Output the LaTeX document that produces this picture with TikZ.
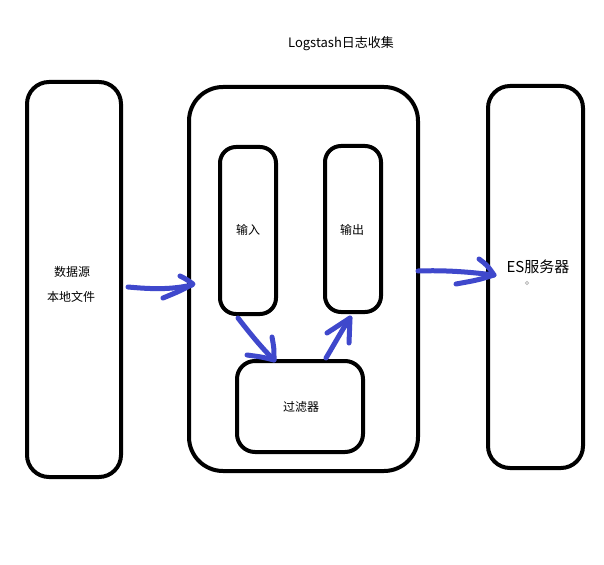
\documentclass[tikz,border=0pt]{standalone}
\usepackage{fontspec}
\setmainfont{Noto Sans CJK SC}
\definecolor{pen}{RGB}{63,72,204}
\begin{document}
\begin{tikzpicture}[x=1pt,y=-1pt,
  box/.style={draw=black,line width=4pt,rounded corners=#1},
  box/.default=18pt,
  lbl/.style={font=\fontsize{12}{14}\selectfont,inner sep=0pt},
  stroke/.style={draw=pen,line width=5pt,line cap=round,line join=round}]
\useasboundingbox (0,0) rectangle (604,564);
\fill[white] (0,0) rectangle (604,564);
% boxes
\draw[box=22pt] (27,82) rectangle (121,477);
\coordinate (srcE) at (121,287);
\draw[box=34pt] (189,87) rectangle (418,471);
\draw[box=16pt] (220,147) rectangle (276,314);
\draw[box=16pt] (325,146) rectangle (381,312);
\draw[box=18pt] (237,361) rectangle (363,452);
\draw[box=22pt] (488,86) rectangle (583,468);
% texts
\node[inner sep=0pt,font=\fontsize{13}{15}\selectfont] (title) at (341,44) {Logstash日志收集};
\node[lbl] (src1) at (72,272) {数据源};
\node[lbl] (src2) at (71,297) {本地文件};
\node[lbl] (in) at (248,230) {输入};
\node[lbl] (out) at (352,230) {输出};
\node[lbl] (flt) at (301,407) {过滤器};
\node[inner sep=0pt,font=\fontsize{15}{17}\selectfont] (es) at (538,267) {ES服务器};
\draw[gray!60,line width=0.6pt] (527,283) circle (1.6);
% hand drawn arrows
\draw[stroke] (128,287) .. controls (150,289) and (170,290) .. (192,285);
\draw[stroke] (180,276) .. controls (186,279) .. (193,284) .. controls (180,291) .. (163,298);
\draw[stroke] (238,318) .. controls (252,336) and (262,348) .. (274,360);
\draw[stroke] (272,337) .. controls (274,348) .. (274,360) .. controls (262,357) .. (247,355);
\draw[stroke] (326,358) .. controls (335,343) and (342,330) .. (350,318);
\draw[stroke] (327,333) .. controls (338,325) .. (350,318) .. controls (350,330) .. (349,343);
\draw[stroke] (418,271) .. controls (445,270) and (470,272) .. (494,275);
\draw[stroke] (479,259) .. controls (487,265) .. (494,275) .. controls (478,280) .. (456,284);
\end{tikzpicture}
\end{document}
